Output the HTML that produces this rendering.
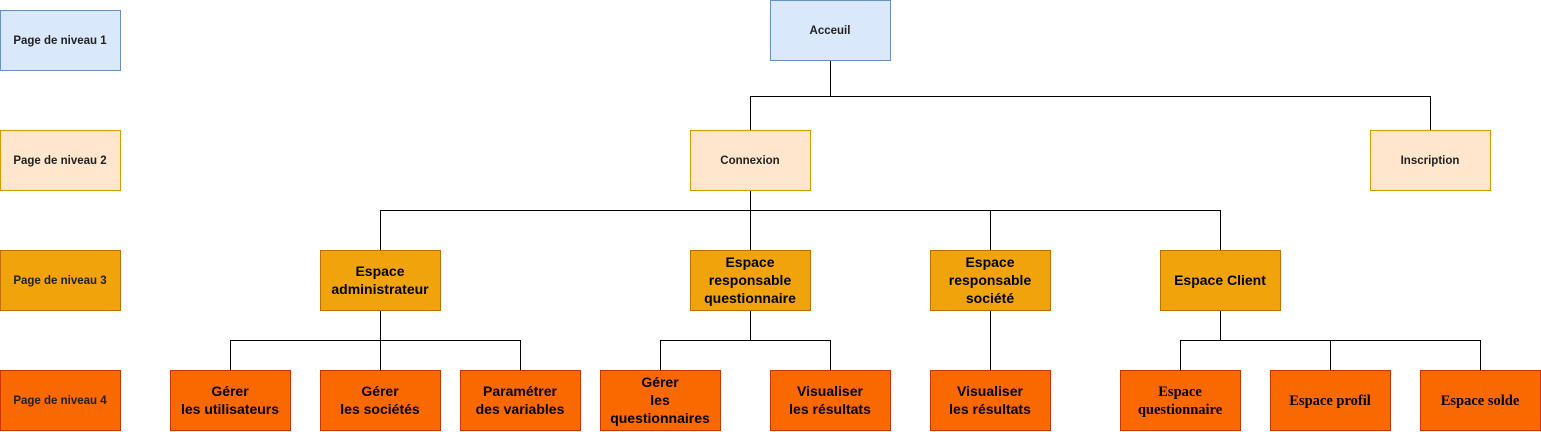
<!DOCTYPE html>
<html><head><meta charset="utf-8"><style>
html,body{margin:0;padding:0;background:#fff;}
svg{display:block}
text{font-family:"Liberation Sans",Arial,sans-serif;fill:#000;text-anchor:middle}
.s{font-size:11.5px;font-weight:bold;fill:#222}
.b{font-size:14px;font-weight:bold}
.r{font-family:"Liberation Serif",serif;font-size:14.5px;font-weight:bold}
.l1{fill:#dae8fc;stroke:#6c8ebf}
.l2{fill:#ffe6cc;stroke:#d79b00}
.l3{fill:#f0a30a;stroke:#bd7000}
.l4{fill:#fa6800;stroke:#c73500}
line,polyline{stroke:#000;stroke-width:1;fill:none}
</style></head><body>
<svg width="1541" height="432" viewBox="0 0 1541 432" xmlns="http://www.w3.org/2000/svg">
<g shape-rendering="crispEdges">
<polyline points="830.5,60 830.5,96.5 1430.5,96.5 1430.5,130"/>
<polyline points="830.5,96.5 750.5,96.5 750.5,130"/>
<line x1="750.5" y1="190" x2="750.5" y2="250"/>
<polyline points="380.5,250 380.5,210.5 1220.5,210.5 1220.5,250"/>
<line x1="990.5" y1="210.5" x2="990.5" y2="250"/>
<line x1="380.5" y1="310" x2="380.5" y2="370"/>
<polyline points="230.5,370 230.5,340.5 520.5,340.5 520.5,370"/>
<line x1="750.5" y1="310" x2="750.5" y2="340.5"/>
<polyline points="660.5,370 660.5,340.5 830.5,340.5 830.5,370"/>
<line x1="990.5" y1="310" x2="990.5" y2="370"/>
<line x1="1220.5" y1="310" x2="1220.5" y2="340.5"/>
<polyline points="1180.5,370 1180.5,340.5 1480.5,340.5 1480.5,370"/>
<line x1="1330.5" y1="340.5" x2="1330.5" y2="370"/>
</g>
<g shape-rendering="crispEdges">
<rect class="l1" x="0.5" y="10.5" width="120" height="60"/>
<rect class="l2" x="0.5" y="130.5" width="120" height="60"/>
<rect class="l3" x="0.5" y="250.5" width="120" height="60"/>
<rect class="l4" x="0.5" y="370.5" width="120" height="60"/>
<rect class="l1" x="770.5" y="0.5" width="120" height="60"/>
<rect class="l2" x="690.5" y="130.5" width="120" height="60"/>
<rect class="l2" x="1370.5" y="130.5" width="120" height="60"/>
<rect class="l3" x="320.5" y="250.5" width="120" height="60"/>
<rect class="l3" x="690.5" y="250.5" width="120" height="60"/>
<rect class="l3" x="930.5" y="250.5" width="120" height="60"/>
<rect class="l3" x="1160.5" y="250.5" width="120" height="60"/>
<rect class="l4" x="170.5" y="370.5" width="120" height="60"/>
<rect class="l4" x="320.5" y="370.5" width="120" height="60"/>
<rect class="l4" x="460.5" y="370.5" width="120" height="60"/>
<rect class="l4" x="600.5" y="370.5" width="120" height="60"/>
<rect class="l4" x="770.5" y="370.5" width="120" height="60"/>
<rect class="l4" x="930.5" y="370.5" width="120" height="60"/>
<rect class="l4" x="1120.5" y="370.5" width="120" height="60"/>
<rect class="l4" x="1270.5" y="370.5" width="120" height="60"/>
<rect class="l4" x="1420.5" y="370.5" width="120" height="60"/>
</g>
<text class="s" x="60" y="44">Page de niveau 1</text>
<text class="s" x="60" y="164">Page de niveau 2</text>
<text class="s" x="60" y="284">Page de niveau 3</text>
<text class="s" x="60" y="404">Page de niveau 4</text>
<text class="s" x="830" y="34">Acceuil</text>
<text class="s" x="750" y="164">Connexion</text>
<text class="s" x="1430" y="164">Inscription</text>
<text class="b" x="380" y="276">Espace</text>
<text class="b" x="380" y="294">administrateur</text>
<text class="b" x="750" y="267">Espace</text>
<text class="b" x="750" y="285">responsable</text>
<text class="b" x="750" y="303">questionnaire</text>
<text class="b" x="990" y="267">Espace</text>
<text class="b" x="990" y="285">responsable</text>
<text class="b" x="990" y="303">société</text>
<text class="b" x="1220" y="285">Espace Client</text>
<text class="b" x="230" y="396">Gérer</text>
<text class="b" x="230" y="414">les utilisateurs</text>
<text class="b" x="380" y="396">Gérer</text>
<text class="b" x="380" y="414">les sociétés</text>
<text class="b" x="520" y="396">Paramétrer</text>
<text class="b" x="520" y="414">des variables</text>
<text class="b" x="660" y="387">Gérer</text>
<text class="b" x="660" y="405">les</text>
<text class="b" x="660" y="423">questionnaires</text>
<text class="b" x="830" y="396">Visualiser</text>
<text class="b" x="830" y="414">les résultats</text>
<text class="b" x="990" y="396">Visualiser</text>
<text class="b" x="990" y="414">les résultats</text>
<text class="r" x="1180" y="396">Espace</text>
<text class="r" x="1180" y="414">questionnaire</text>
<text class="r" x="1330" y="405">Espace profil</text>
<text class="r" x="1480" y="405">Espace solde</text>
</svg>
</body></html>
